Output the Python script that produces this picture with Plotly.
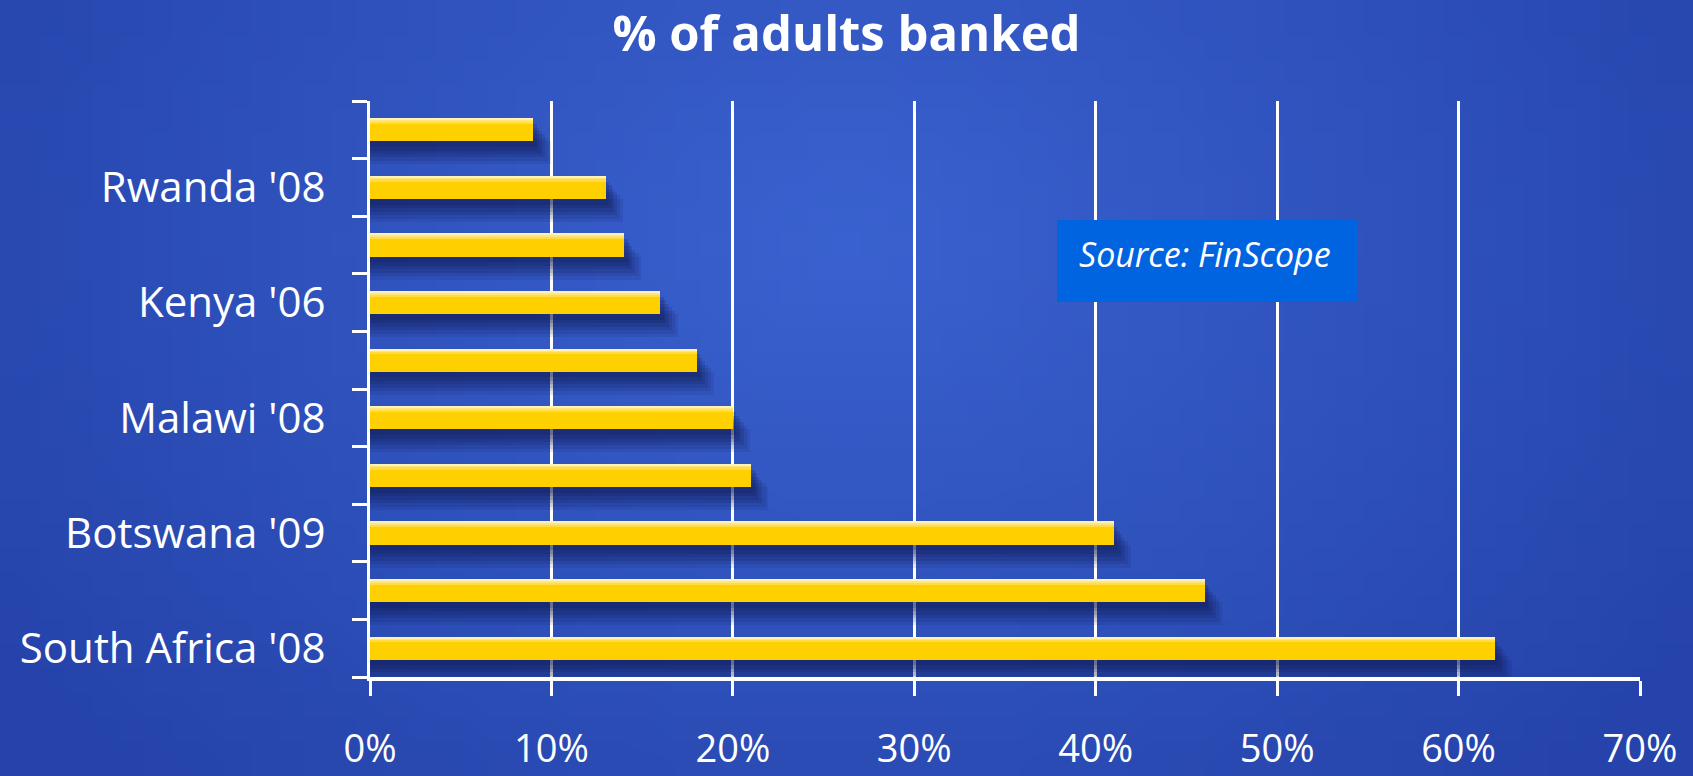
import plotly.graph_objects as go
import zlib
import struct
import base64
import math

# ---------------- data ----------------
title_text = "% of adults banked"
categories = ["", "Rwanda '08", "", "Kenya '06", "", "Malawi '08", "",
              "Botswana '09", "", "South Africa '08"]          # top to bottom
values = [9, 13, 14, 16, 18, 20, 21, 41, 46, 62]               # percent
x_tick_values = [0, 10, 20, 30, 40, 50, 60, 70]
x_tick_labels = ["0%", "10%", "20%", "30%", "40%", "50%", "60%", "70%"]
source_note = "Source: FinScope"

# ---------------- geometry ----------------
W, H = 1693, 776
ML, MR, MT, MB = 370, 53, 101, 99
PW, PH = W - ML - MR, H - MT - MB
FONT = "Open Sans"

n = len(values)
pos = [n - 1 - i for i in range(n)]          # first category on top
label_pos = [p for p, c in zip(pos, categories) if c]
label_txt = [c for c in categories if c]

# ---------------- background gradient image ----------------
def make_png(w, h, fn):
    raw = b""
    for j in range(h):
        row = bytearray([0])
        for i in range(w):
            row += bytes(fn(i / (w - 1), j / (h - 1)))
        raw += bytes(row)

    def chunk(tag, data):
        c = struct.pack(">I", len(data)) + tag + data
        return c + struct.pack(">I", zlib.crc32(tag + data) & 0xFFFFFFFF)

    sig = b"\x89PNG\r\n\x1a\n"
    ihdr = struct.pack(">IIBBBBB", w, h, 8, 2, 0, 0, 0)
    return sig + chunk(b"IHDR", ihdr) + chunk(b"IDAT", zlib.compress(raw, 9)) + chunk(b"IEND", b"")

light = (58, 98, 208)
dark = (37, 67, 170)

def bg(u, v):
    t = math.sqrt(((u - 0.5) / 0.62) ** 2 + ((v - 0.3) / 1.0) ** 2)
    t = min(1.0, t)
    return tuple(int(round(light[k] + (dark[k] - light[k]) * t)) for k in range(3))

png = make_png(64, 32, bg)
bg_uri = "data:image/png;base64," + base64.b64encode(png).decode()

# ---------------- traces ----------------
fig = go.Figure()

bar_w = 0.4
# soft shadows (several faint layers to imitate blur)
shadow_layers = [(0.40, 0.95, 0.10), (0.34, 0.80, 0.12), (0.28, 0.62, 0.14),
                 (0.22, 0.46, 0.16), (0.16, 0.32, 0.18), (0.10, 0.20, 0.20)]
for d, e, op in shadow_layers:
    fig.add_trace(go.Bar(
        x=[v + e for v in values], y=pos, orientation="h",
        width=bar_w, offset=-bar_w / 2 - d,
        marker=dict(color=f"rgba(14,24,78,{op})", line_width=0),
        hoverinfo="skip", showlegend=False))

# main bars
fig.add_trace(go.Bar(
    x=values, y=pos, orientation="h", width=bar_w,
    marker=dict(color="#FFD000", line_width=0),
    showlegend=False))

# top highlight
fig.add_trace(go.Bar(
    x=values, y=pos, orientation="h", width=0.10, offset=bar_w / 2 - 0.10,
    marker=dict(color="#FFDC45", line_width=0),
    hoverinfo="skip", showlegend=False))
fig.add_trace(go.Bar(
    x=values, y=pos, orientation="h", width=0.06, offset=bar_w / 2 - 0.06,
    marker=dict(color="#FFE67A", line_width=0),
    hoverinfo="skip", showlegend=False))
fig.add_trace(go.Bar(
    x=values, y=pos, orientation="h", width=0.025, offset=bar_w / 2 - 0.025,
    marker=dict(color="#FFF2B5", line_width=0),
    hoverinfo="skip", showlegend=False))

# ---------------- layout ----------------
fig.update_layout(
    width=W, height=H,
    margin=dict(l=ML, r=MR, t=MT, b=MB, autoexpand=False),
    paper_bgcolor="#3157C3",
    plot_bgcolor="rgba(0,0,0,0)",
    barmode="overlay",
    bargap=0,
    showlegend=False,
    title=dict(text="<b>" + title_text + "</b>", x=0.5, xref="container",
               xanchor="center", y=1 - 34 / H, yref="container", yanchor="middle",
               font=dict(family=FONT, size=49, color="white")),
    images=[dict(source=bg_uri, xref="paper", yref="paper",
                 x=-ML / PW, y=1 + MT / PH, sizex=W / PW, sizey=H / PH,
                 xanchor="left", yanchor="top", sizing="stretch", layer="below")],
    xaxis=dict(
        range=[0, 70], tickmode="array", tickvals=x_tick_values, ticktext=x_tick_labels,
        showgrid=True, gridcolor="white", gridwidth=2.5,
        ticks="outside", ticklen=15, tickwidth=2.5, tickcolor="white",
        showline=True, linecolor="white", linewidth=4,
        zeroline=False, ticklabelstandoff=20,
        tickfont=dict(family=FONT, size=38, color="white"),
        fixedrange=True),
    yaxis=dict(
        range=[-0.5, n - 0.5], tickmode="array", tickvals=label_pos, ticktext=label_txt,
        showgrid=False, zeroline=False,
        ticks="", showline=True, linecolor="white", linewidth=3,
        ticklabelstandoff=33,
        tickfont=dict(family=FONT, size=42, color="white"),
        minor=dict(tickmode="linear", tick0=-0.5, dtick=1, ticks="outside",
                   ticklen=15, tickwidth=3, tickcolor="white", showgrid=False),
        fixedrange=True),
    shapes=[dict(type="rect", xref="paper", yref="paper",
                 x0=(1057 - ML) / PW, x1=(1357 - ML) / PW,
                 y0=(H - MB - 302) / PH, y1=(H - MB - 220) / PH,
                 fillcolor="#0064E0", line_width=0, layer="above")],
    annotations=[dict(text="<i>" + source_note + "</i>", xref="paper", yref="paper",
                      x=(1077 - ML) / PW, y=(H - MB - 254) / PH,
                      xanchor="left", yanchor="middle", showarrow=False,
                      font=dict(family=FONT, size=34, color="white"))],
)

fig.write_html("out.html")
